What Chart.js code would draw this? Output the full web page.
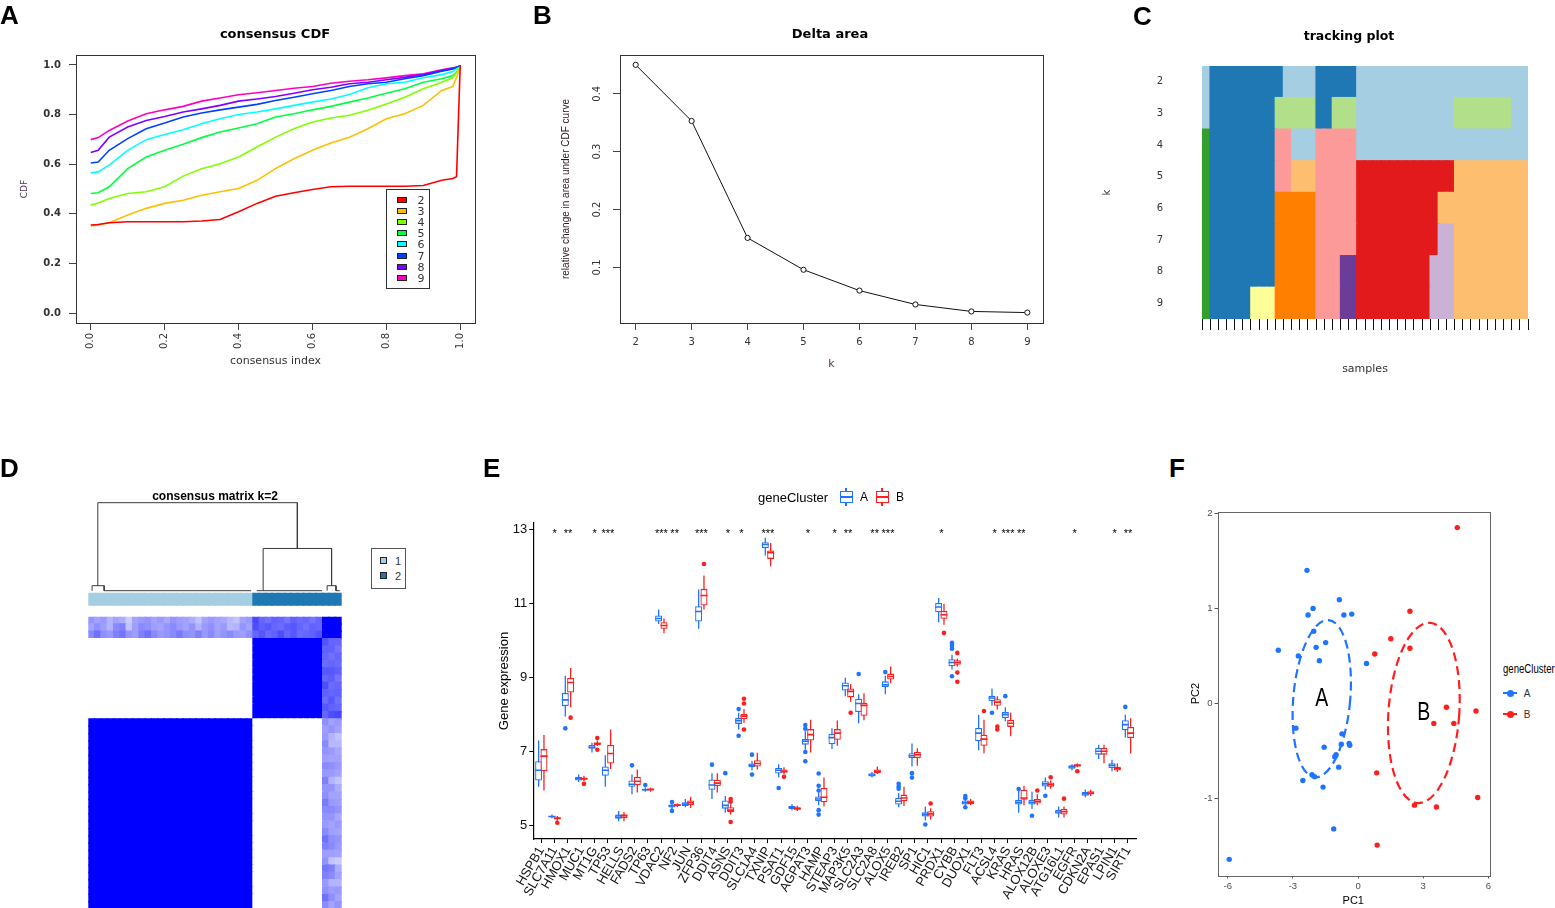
<!DOCTYPE html>
<html>
<head>
<meta charset="utf-8">
<title>Consensus clustering figure</title>
<script src="https://cdn.jsdelivr.net/npm/chart.js@4.4.1/dist/chart.umd.min.js"></script>
<style>
  html, body { margin: 0; padding: 0; background: #fff; }
  body { position: relative; width: 1555px; height: 908px; overflow: hidden; }
  canvas { position: absolute; }
  .t { position: absolute; white-space: nowrap; line-height: 1; color: #000; }
  .box { position: absolute; box-sizing: border-box; }
</style>
</head>
<body>
<script>
// ---------------- A: consensus CDF ----------------
const cdfIndex = [0, 0.02, 0.05, 0.1, 0.15, 0.2, 0.25, 0.3, 0.35, 0.4, 0.45, 0.5, 0.55, 0.6, 0.65, 0.7, 0.75, 0.8, 0.85, 0.9, 0.95, 0.98, 0.99, 1.0];
const cdfK2 = [0.355, 0.357, 0.364, 0.368, 0.368, 0.368, 0.368, 0.371, 0.377, 0.408, 0.442, 0.471, 0.485, 0.498, 0.509, 0.511, 0.511, 0.511, 0.511, 0.514, 0.535, 0.542, 0.549, 1.0];
const cdfK3 = [0.351, 0.355, 0.364, 0.395, 0.422, 0.442, 0.455, 0.475, 0.489, 0.502, 0.535, 0.582, 0.622, 0.656, 0.685, 0.709, 0.743, 0.783, 0.803, 0.837, 0.897, 0.913, 0.95, 0.991];
const cdfK4 = [0.435, 0.444, 0.462, 0.482, 0.489, 0.509, 0.552, 0.582, 0.602, 0.629, 0.669, 0.709, 0.743, 0.77, 0.786, 0.797, 0.817, 0.843, 0.87, 0.904, 0.93, 0.948, 0.971, 0.991];
const cdfK5 = [0.482, 0.485, 0.509, 0.582, 0.629, 0.656, 0.68, 0.707, 0.73, 0.746, 0.763, 0.79, 0.803, 0.819, 0.833, 0.85, 0.867, 0.886, 0.904, 0.93, 0.944, 0.957, 0.971, 0.991];
const cdfK6 = [0.565, 0.569, 0.596, 0.656, 0.699, 0.72, 0.739, 0.763, 0.783, 0.8, 0.81, 0.823, 0.837, 0.85, 0.863, 0.881, 0.908, 0.924, 0.93, 0.948, 0.961, 0.973, 0.984, 0.993];
const cdfK7 = [0.605, 0.609, 0.656, 0.703, 0.743, 0.766, 0.79, 0.806, 0.819, 0.83, 0.841, 0.857, 0.87, 0.884, 0.897, 0.913, 0.924, 0.93, 0.944, 0.957, 0.975, 0.984, 0.991, 0.996];
const cdfK8 = [0.647, 0.656, 0.709, 0.75, 0.776, 0.792, 0.81, 0.823, 0.837, 0.854, 0.863, 0.873, 0.886, 0.9, 0.91, 0.924, 0.93, 0.94, 0.95, 0.961, 0.977, 0.986, 0.991, 0.996];
const cdfK9 = [0.699, 0.707, 0.736, 0.774, 0.803, 0.819, 0.833, 0.854, 0.867, 0.88, 0.888, 0.897, 0.906, 0.913, 0.926, 0.934, 0.94, 0.948, 0.957, 0.964, 0.98, 0.988, 0.991, 0.997];
const cdfLabels = ['2', '3', '4', '5', '6', '7', '8', '9'];
const cdfTicks = [0, 0.2, 0.4, 0.6, 0.8, 1.0];

// ---------------- B: delta area ----------------
const deltaK = [2, 3, 4, 5, 6, 7, 8, 9];
const deltaArea = [0.45, 0.353, 0.151, 0.096, 0.06, 0.036, 0.024, 0.022];
const deltaTicks = [0.1, 0.2, 0.3, 0.4];

// ---------------- C: tracking plot (palette index per sample) ----------------
const trackK2 = [0,1,1,1,1,1,1,1,1,1,0,0,0,0,1,1,1,1,1,0,0,0,0,0,0,0,0,0,0,0,0,0,0,0,0,0,0,0,0,0];
const trackK3 = [0,1,1,1,1,1,1,1,1,2,2,2,2,2,1,1,2,2,2,0,0,0,0,0,0,0,0,0,0,0,0,2,2,2,2,2,2,2,0,0];
const trackK4 = [3,1,1,1,1,1,1,1,1,4,4,0,0,0,4,4,4,4,4,0,0,0,0,0,0,0,0,0,0,0,0,0,0,0,0,0,0,0,0,0];
const trackK5 = [3,1,1,1,1,1,1,1,1,4,4,6,6,6,4,4,4,4,4,5,5,5,5,5,5,5,5,5,5,5,5,6,6,6,6,6,6,6,6,6];
const trackK6 = [3,1,1,1,1,1,1,1,1,7,7,7,7,7,4,4,4,4,4,5,5,5,5,5,5,5,5,5,5,6,6,6,6,6,6,6,6,6,6,6];
const trackK7 = [3,1,1,1,1,1,1,1,1,7,7,7,7,7,4,4,4,4,4,5,5,5,5,5,5,5,5,5,5,8,8,6,6,6,6,6,6,6,6,6];
const trackK8 = [3,1,1,1,1,1,1,1,1,7,7,7,7,7,4,4,4,9,9,5,5,5,5,5,5,5,5,5,8,8,8,6,6,6,6,6,6,6,6,6];
const trackK9 = [3,1,1,1,1,1,10,10,10,7,7,7,7,7,4,4,4,9,9,5,5,5,5,5,5,5,5,5,8,8,8,6,6,6,6,6,6,6,6,6];
const trackKs = ['9', '8', '7', '6', '5', '4', '3', '2'];

// ---------------- D: consensus matrix k=2 ----------------
const consCluster = [1,1,1,1,1,1,1,1,1,1,1,1,1,1,1,1,1,1,1,1,1,1,1,1,1,1,2,2,2,2,2,2,2,2,2,2,2,2,2,2];
const ambiguousIds = [37, 38, 39];
const ambRow37 = [0.46,0.56,0.44,0.4,0.5,0.54,0.42,0.38,0.5,0.56,0.46,0.4,0.42,0.46,0.52,0.44,0.42,0.5,0.4,0.46,0.38,0.42,0.46,0.4,0.38,0.44, 0.6,0.66,0.58,0.62,0.7,0.6,0.66,0.58,0.6,0.62,0.68];
const ambRow38 = [0.36,0.44,0.38,0.3,0.46,0.5,0.24,0.38,0.46,0.44,0.38,0.36,0.42,0.46,0.4,0.36,0.42,0.3,0.4,0.44,0.36,0.4,0.28,0.3,0.42,0.36, 0.7,0.62,0.66,0.6,0.58,0.64,0.66,0.6,0.56,0.62,0.6];
const ambRow39 = [0.42,0.36,0.4,0.3,0.36,0.32,0.2,0.36,0.4,0.42,0.36,0.4,0.34,0.42,0.38,0.36,0.32,0.24,0.36,0.4,0.36,0.34,0.28,0.24,0.36,0.4, 0.72,0.6,0.56,0.62,0.6,0.54,0.62,0.58,0.6,0.55,0.6];
// [left x, right x, merge height, left child height, right child height]
const dendroMerges = [
  [1.0, 32.5, 1.0, 0.057, 0.48],
  [27.1, 37.9, 0.48, 0, 0.057],
  [0.1, 2.0, 0.057, 0, 0],
  [37.2, 38.6, 0.057, 0, 0],
  [2.0, 25.2, 0, 0, 0],
  [26.1, 36.4, 0, 0, 0],
  [38.6, 39.2, 0, 0, 0]
];

// ---------------- E: gene expression boxplots ----------------
const genes = ['HSPB1','SLC7A11','HMOX1','MUC1','MT1G','TP53','HELLS','FADS2','TP63','VDAC2','NF2','JUN','ZFP36','DDIT4','ASNS','DDIT3','SLC1A4','TXNIP','PSAT1','GDF15','AGPAT3','HAMP','STEAP3','MAP3K5','SLC2A3','SLC2A8','ALOX5','IREB2','SP1','HIC1','PRDX1','CYBB','DUOX1','FLT3','ACSL4','KRAS','HRAS','ALOX12B','ALOXE3','ATG16L1','EGFR','CDKN2A','EPAS1','LPIN1','SIRT1'];
const sigLabels = ['','*','**','','*','***','','','','***','**','','***','','*','*','','***','','','*','','*','**','','**','***','','','','*','','','','*','***','**','','','','*','','','*','**'];
// [lower whisker, Q1, median, Q3, upper whisker]
const statsA = [
  [6.05,6.22,6.5,6.74,7.3],[5.2,5.23,5.25,5.27,5.3],[7.95,8.23,8.4,8.59,9.05],[6.18,6.22,6.27,6.32,6.38],[6.98,7.08,7.12,7.18,7.24],
  [6.05,6.35,6.5,6.6,6.9],[5.12,5.19,5.23,5.3,5.4],[5.85,6.05,6.12,6.22,6.38],[5.92,5.95,5.97,6.0,6.03],[10.45,10.52,10.6,10.68,10.84],
  [5.45,5.49,5.53,5.57,5.62],[5.5,5.53,5.58,5.63,5.72],[10.32,10.52,10.79,10.93,11.38],[5.72,5.97,6.1,6.25,6.42],[5.35,5.46,5.55,5.68,5.8],
  [7.6,7.75,7.84,7.91,8.05],[6.5,6.58,6.63,6.68,6.75],[12.3,12.5,12.6,12.66,12.78],[6.3,6.41,6.5,6.56,6.66],[5.42,5.45,5.49,5.53,5.58],
  [7.05,7.19,7.28,7.34,7.55],[5.55,5.66,5.72,5.79,5.9],[7.07,7.2,7.38,7.48,7.63],[8.5,8.65,8.78,8.87,9.0],[7.77,8.07,8.3,8.43,8.55],
  [6.3,6.33,6.37,6.42,6.45],[8.55,8.75,8.81,8.9,9.05],[5.5,5.57,5.66,5.75,5.88],[6.6,6.83,6.89,6.96,7.22],[5.14,5.25,5.3,5.36,5.52],
  [10.5,10.77,10.91,11.02,11.15],[9.22,9.31,9.41,9.5,9.62],[5.55,5.57,5.62,5.68,5.7],[7.04,7.28,7.5,7.64,8.0],[8.24,8.36,8.45,8.51,8.7],
  [7.82,7.91,8.0,8.07,8.2],[5.35,5.57,5.63,5.7,5.97],[5.45,5.57,5.63,5.7,5.92],[5.98,6.06,6.13,6.2,6.3],[5.22,5.32,5.37,5.43,5.52],
  [6.5,6.54,6.59,6.63,6.66],[5.77,5.81,5.86,5.91,5.98],[6.8,6.92,7.01,7.1,7.19],[6.47,6.56,6.63,6.69,6.78],[7.38,7.58,7.73,7.85,8.0]
];
const statsB = [
  [5.95,6.47,6.88,7.07,7.45],[5.13,5.17,5.2,5.23,5.26],[8.2,8.6,8.87,8.99,9.26],[6.2,6.24,6.27,6.3,6.35],[7.15,7.18,7.22,7.25,7.3],
  [6.53,6.68,6.95,7.18,7.6],[5.12,5.21,5.27,5.31,5.37],[5.9,6.1,6.2,6.32,6.52],[5.92,5.95,5.98,6.0,6.03],[10.2,10.32,10.41,10.5,10.6],
  [5.5,5.53,5.56,5.58,5.6],[5.48,5.55,5.62,5.68,5.78],[10.84,10.95,11.22,11.4,11.76],[5.9,6.07,6.15,6.24,6.42],[5.3,5.36,5.42,5.5,5.58],
  [7.78,7.88,7.96,8.02,8.15],[6.52,6.6,6.68,6.77,6.97],[12.01,12.21,12.38,12.44,12.64],[6.38,6.43,6.47,6.52,6.58],[5.4,5.43,5.46,5.5,5.54],
  [6.98,7.3,7.46,7.61,7.86],[5.52,5.63,5.77,6.02,6.3],[7.16,7.32,7.5,7.61,7.84],[8.35,8.47,8.63,8.71,8.83],[7.85,7.97,8.25,8.32,8.58],
  [6.4,6.42,6.47,6.52,6.6],[8.85,8.95,9.03,9.11,9.3],[5.53,5.66,5.75,5.84,6.05],[6.62,6.83,6.92,7.0,7.09],[5.17,5.25,5.32,5.39,5.47],
  [10.43,10.59,10.7,10.8,11.0],[9.3,9.35,9.41,9.47,9.52],[5.55,5.58,5.63,5.68,5.72],[6.96,7.16,7.34,7.46,7.86],[8.14,8.24,8.34,8.42,8.5],
  [7.42,7.67,7.77,7.86,8.05],[5.55,5.7,5.75,5.97,6.08],[5.55,5.6,5.66,5.72,5.85],[6.0,6.05,6.11,6.17,6.22],[5.22,5.3,5.38,5.46,5.52],
  [6.58,6.6,6.63,6.66,6.68],[5.8,5.84,5.88,5.93,5.97],[6.69,6.92,7.01,7.1,7.19],[6.45,6.49,6.54,6.59,6.68],[6.95,7.37,7.5,7.67,7.9]
];
const outliersA = [[],[],[7.63],[],[],[],[],[6.63],[6.1],[],[5.4,5.64],[],[],[6.65],[6.42],[8.15,7.43],[6.92,6.38],[],[6.02],[],
  [7.72,7.62,6.99,6.74],[6.41,6.08,5.95,5.42,5.3],[],[],[9.1],[],[9.15],[6.13,6.06,6.0],[6.42,6.3],[5.03],[],[9.94,9.86,9.78,9.04],
  [5.8,5.74,5.5],[],[8.05],[8.5],[5.99],[5.27],[5.81],[],[],[],[],[],[8.21]];
const outliersB = [[],[5.08],[7.92],[6.13],[7.37,7.05],[],[],[],[],[],[],[],[12.07],[],[5.72,5.65,5.1],[8.43,8.3,7.6],[],[],[6.32],[],
  [],[],[],[8.05],[],[],[],[],[],[5.6],[10.21],[9.67,9.14,8.89],[],[8.1],[7.68,7.6],[],[],[5.95],[6.31],[5.73],[6.47],[],[],[],[]];
const exprTicks = [5, 7, 9, 11, 13];

// ---------------- F: PCA ----------------
const pcaAx = [-5.93,-3.67,-2.75,-2.86,-2.54,-2.35,-2.30,-2.07,-2.04,-1.93,-2.0,-2.12,-1.78,-1.56,-1.61,-1.49,-1.12,-1.07,-1.01,-0.89,-0.86,-0.74,-0.77,-0.65,-0.41,-0.38,-0.29,0.39];
const pcaAy = [-1.64,0.56,0.5,-0.26,-0.81,1.40,0.93,1.0,0.76,0.59,-0.77,-0.75,0.45,-0.46,-0.88,0.64,-1.32,-0.56,-0.54,-0.67,1.09,-0.32,-0.43,0.93,-0.42,-0.44,0.94,0.42];
const pcaBx = [0.77,0.86,0.88,1.51,2.39,2.39,2.60,3.49,3.61,4.07,4.41,4.57,5.43,5.51];
const pcaBy = [0.52,-0.73,-1.49,0.68,0.97,0.58,-1.07,-0.21,-1.09,-0.04,-0.21,1.85,-0.08,-0.99];
const ellipseLabels = ['A', 'B'];
const ellipseCx = [-1.67, 3.03];
const ellipseCy = [0.05, -0.1];
const ellipseRx = [1.31, 1.63];
const ellipseRy = [0.83, 0.95];
const ellipseTilt = [5, 4];
const pcaXTicks = [-6, -3, 0, 3, 6];
const pcaYTicks = [-1, 0, 1, 2];

// ---------------- setup ----------------
const SANS = '"Liberation Sans", Arial, sans-serif';
const WIDE = '"DejaVu Sans", sans-serif';
const BLUE = '#1F74FF', RED = '#FF1E1E';
const cdfColors = ['#FF0000', '#FFBF00', '#80FF00', '#00FF40', '#00FFFF', '#0040FF', '#8000FF', '#FF00BF'];
const trackPalette = ['#A6CEE3','#1F78B4','#B2DF8A','#33A02C','#FB9A99','#E31A1C','#FDBF6F','#FF7F00','#CAB2D6','#6A3D9A','#FFFF99'];
const clusterColors = ['#A6CEE3', '#1F78B4'];
const sampleIds = consCluster.map((_, i) => 'S' + (i + 1));

Chart.defaults.font.family = SANS;
Chart.defaults.color = '#000';
Chart.defaults.animation = false;
Chart.defaults.responsive = false;
Chart.defaults.plugins.legend.display = false;
Chart.defaults.plugins.tooltip.enabled = false;

function makeChart(left, top, w, h, config) {
  const cv = document.createElement('canvas');
  cv.width = w; cv.height = h;
  cv.style.left = left + 'px'; cv.style.top = top + 'px';
  document.body.appendChild(cv);
  return new Chart(cv, config);
}
function addText(str, x, y, font, opts = {}) {
  const d = document.createElement('div');
  d.className = 't';
  d.textContent = str;
  d.style.left = x + 'px'; d.style.top = y + 'px'; d.style.font = font;
  if (opts.color) d.style.color = opts.color;
  const left = opts.anchor === 'left';
  if (left) d.style.transformOrigin = '0 50%';
  d.style.transform = `translate(${left ? '0' : '-50%'},-50%)` + (opts.rot ? ` rotate(${opts.rot}deg)` : '') + (opts.sx ? ` scaleX(${opts.sx})` : '');
  document.body.appendChild(d);
}
function addBox(x, y, w, h, css) {
  const d = document.createElement('div');
  d.className = 'box';
  Object.assign(d.style, { left: x + 'px', top: y + 'px', width: w + 'px', height: h + 'px' }, css);
  document.body.appendChild(d);
}
function framePlugin(color) {
  return { id: 'frame', afterDraw(chart) {
    const { ctx, chartArea: a } = chart;
    ctx.save(); ctx.strokeStyle = color; ctx.lineWidth = 1;
    ctx.strokeRect(Math.round(a.left) + 0.5, Math.round(a.top) + 0.5, Math.round(a.right - a.left), Math.round(a.bottom - a.top));
    ctx.restore();
  } };
}
const fixedTicks = values => s => { s.ticks = values.map(v => ({ value: v })); };
const tickGrid = (len, color) => ({ drawOnChartArea: false, tickLength: len, color });

// ---------------- A ----------------
const cdfCurves = [cdfK2, cdfK3, cdfK4, cdfK5, cdfK6, cdfK7, cdfK8, cdfK9];
makeChart(0, 0, 490, 380, {
  type: 'line',
  data: { datasets: cdfCurves.map((ys, i) => ({
    label: cdfLabels[i], data: ys.map((y, j) => ({ x: cdfIndex[j], y })),
    borderColor: cdfColors[i], borderWidth: 1.6, pointRadius: 0, tension: 0
  })) },
  options: {
    layout: { padding: { top: 55, right: 15, left: 0, bottom: 0 } },
    scales: {
      x: { type: 'linear', min: -0.04, max: 1.04, afterFit: s => { s.height = 57; },
        afterBuildTicks: fixedTicks(cdfTicks), grid: tickGrid(7, '#444'), border: { display: false },
        ticks: { autoSkip: false, minRotation: 90, maxRotation: 90, padding: 3, color: '#333', font: { family: WIDE, size: 10 }, callback: v => v.toFixed(1) },
        title: { display: true, text: 'consensus index', color: '#333', font: { family: WIDE, size: 11 }, padding: { top: 0, bottom: 12 } } },
      y: { type: 'linear', min: -0.04, max: 1.04, afterFit: s => { s.width = 76; },
        afterBuildTicks: fixedTicks(cdfTicks), grid: tickGrid(7, '#444'), border: { display: false },
        ticks: { padding: 8, color: '#333', font: { family: WIDE, size: 10, weight: 'bold' }, callback: v => v.toFixed(1) },
        title: { display: true, text: 'CDF', color: '#4a3358', font: { family: WIDE, size: 9 }, padding: { top: 19, bottom: 0 } } }
    }
  },
  plugins: [framePlugin('#333')]
});
addText('consensus CDF', 275, 33, `bold 13px ${WIDE}`);
addBox(386, 189, 44, 100, { border: '1.5px solid #333' });
cdfLabels.forEach((lab, i) => {
  const y = 200 + i * 11.1;
  addBox(397, y - 3, 10, 6, { background: cdfColors[i], border: '1px solid #222' });
  addText(lab, 421, y, `11px ${WIDE}`, { color: '#333' });
});

// ---------------- B ----------------
const rotatedYLabels = { id: 'rotY', afterDraw(chart) {
  const { ctx } = chart, ys = chart.scales.y;
  ctx.save();
  ctx.font = `10px ${WIDE}`; ctx.fillStyle = '#333'; ctx.textAlign = 'center'; ctx.textBaseline = 'middle';
  deltaTicks.forEach(v => {
    ctx.save(); ctx.translate(57, ys.getPixelForValue(v)); ctx.rotate(-Math.PI / 2);
    ctx.fillText(v.toFixed(1), 0, 0); ctx.restore();
  });
  ctx.restore();
} };
makeChart(540, 0, 520, 380, {
  type: 'line',
  data: { datasets: [{ data: deltaK.map((k, i) => ({ x: k, y: deltaArea[i] })), borderColor: '#111', borderWidth: 1,
    pointRadius: 2.6, pointBackgroundColor: '#fff', pointBorderColor: '#111', pointBorderWidth: 1 }] },
  options: {
    layout: { padding: { top: 55, right: 17, left: 0, bottom: 0 } },
    scales: {
      x: { type: 'linear', min: 1.72, max: 9.28, afterFit: s => { s.height = 57; },
        afterBuildTicks: fixedTicks(deltaK), grid: tickGrid(7, '#444'), border: { display: false },
        ticks: { autoSkip: false, maxRotation: 0, padding: 6, color: '#333', font: { family: WIDE, size: 10 } },
        title: { display: true, text: 'k', color: '#5a3a2a', font: { family: WIDE, size: 11 }, padding: { top: 0, bottom: 9 } } },
      y: { type: 'linear', min: 0.004, max: 0.467, afterFit: s => { s.width = 80; },
        afterBuildTicks: fixedTicks(deltaTicks), grid: tickGrid(7, '#444'), border: { display: false },
        ticks: { display: false },
        title: { display: true, text: 'relative change in area under CDF curve', color: '#2a1a1a', font: { family: SANS, size: 10 }, padding: { top: 20, bottom: 0 } } }
    }
  },
  plugins: [framePlugin('#333'), rotatedYLabels]
});
addText('Delta area', 830, 33, `bold 13px ${WIDE}`);

// ---------------- C ----------------
const trackBottomUp = [trackK9, trackK8, trackK7, trackK6, trackK5, trackK4, trackK3, trackK2];
makeChart(1080, 0, 475, 390, {
  type: 'bar',
  data: { labels: sampleIds, datasets: trackBottomUp.map(row => ({
    data: row.map(() => 1), backgroundColor: row.map(c => trackPalette[c]),
    borderWidth: 0, barPercentage: 1, categoryPercentage: 1, inflateAmount: 0.7
  })) },
  options: {
    layout: { padding: { top: 66, right: 27, left: 0, bottom: 0 } },
    scales: {
      x: { stacked: true, afterFit: s => { s.height = 71; },
        grid: { offset: true, drawOnChartArea: false, tickLength: 11, color: '#111' }, border: { display: false },
        ticks: { display: false },
        title: { display: true, text: 'samples', color: '#333', font: { family: WIDE, size: 11 }, padding: { top: 0, bottom: 14 } } },
      y: { stacked: true, min: 0, max: 8, afterFit: s => { s.width = 122; },
        afterBuildTicks: fixedTicks([0.5, 1.5, 2.5, 3.5, 4.5, 5.5, 6.5, 7.5]), grid: { display: false }, border: { display: false },
        ticks: { padding: 31, color: '#333', font: { family: WIDE, size: 10 }, callback: v => trackKs[Math.floor(v)] },
        title: { display: true, text: 'k', color: '#333', font: { family: WIDE, size: 10 }, padding: { top: 21, bottom: 0 } } }
    }
  }
});
addText('tracking plot', 1349, 35, `bold 12.5px ${WIDE}`);

// ---------------- D ----------------
const ambRows = [ambRow37, ambRow38, ambRow39];
function consensusValue(i, j) {
  const ai = ambiguousIds.indexOf(i), aj = ambiguousIds.indexOf(j);
  if (ai >= 0 && aj >= 0) return 1;
  if (ai >= 0) return ambRows[ai][j];
  if (aj >= 0) return ambRows[aj][i];
  return consCluster[i] === consCluster[j] ? 1 : 0;
}
const consColor = v => { const c = Math.round(255 * (1 - v)); return `rgb(${c},${c},255)`; };

makeChart(80, 495, 270, 100, {
  type: 'scatter',
  data: { datasets: dendroMerges.map(m => ({
    data: [{ x: m[0], y: m[3] }, { x: m[0], y: m[2] }, { x: m[1], y: m[2] }, { x: m[1], y: m[4] }],
    showLine: true, borderColor: '#3a3a3a', borderWidth: 1, pointRadius: 0, clip: false
  })) },
  options: {
    layout: { padding: { top: 7.7, bottom: 4.3, left: 8.3, right: 8.3 } },
    scales: { x: { type: 'linear', min: -0.5, max: 39.5, display: false }, y: { min: 0, max: 1, display: false } }
  }
});
makeChart(80, 588, 270, 22, {
  type: 'bar',
  data: { labels: sampleIds, datasets: [{ data: consCluster.map(() => 1), backgroundColor: consCluster.map(c => clusterColors[c - 1]),
    borderWidth: 0, barPercentage: 1, categoryPercentage: 1, inflateAmount: 0.7 }] },
  options: {
    layout: { padding: { top: 4.7, bottom: 4.3, left: 8.3, right: 8.3 } },
    scales: { x: { display: false }, y: { min: 0, max: 1, display: false } }
  }
});
makeChart(80, 612, 270, 298, {
  type: 'bar',
  data: { labels: sampleIds, datasets: sampleIds.map((_, r) => ({
    data: sampleIds.map(() => 1), backgroundColor: sampleIds.map((__, c) => consColor(consensusValue(r, c))),
    borderWidth: 0, barPercentage: 1, categoryPercentage: 1, inflateAmount: 0.7
  })) },
  options: {
    layout: { padding: { top: 4.7, bottom: 1, left: 8.3, right: 8.3 } },
    scales: { x: { stacked: true, display: false }, y: { stacked: true, min: 0, max: 40, display: false } }
  }
});
addText('consensus matrix k=2', 215, 496, `bold 12px ${SANS}`);
addBox(371, 548, 35, 41, { border: '1px solid #555' });
addBox(380, 557, 7, 7, { background: clusterColors[0], border: '1px solid #222' });
addText('1', 398, 561, `11px ${SANS}`, { color: '#333' });
addBox(380, 572, 7, 7, { background: clusterColors[1], border: '1px solid #222' });
addText('2', 398, 576, `11px ${SANS}`, { color: '#333' });

// ---------------- E ----------------
const eDatasets = [];
[[statsB, outliersB, RED, 'xB', 0.2], [statsA, outliersA, BLUE, 'x', -0.2]].forEach(([st, out, col, ax, dx]) => {
  eDatasets.push({ type: 'bar', xAxisID: ax, order: 3, grouped: false, data: st.map((s, i) => ({ x: i + dx, y: [s[0], s[4]] })),
    backgroundColor: col, borderWidth: 0, maxBarThickness: 1.3, inflateAmount: 0 });
  eDatasets.push({ type: 'bar', xAxisID: ax, order: 2, grouped: false, data: st.map((s, i) => ({ x: i + dx, y: [s[1], s[3]] })),
    backgroundColor: '#fff', borderColor: col, borderWidth: 1.3, borderSkipped: false, maxBarThickness: 7 });
  eDatasets.push({ type: 'scatter', xAxisID: ax, order: 1, data: st.map((s, i) => ({ x: i + dx, y: s[2] })),
    pointStyle: 'line', pointRadius: 3.5, pointBorderColor: col, pointBorderWidth: 1.6 });
  eDatasets.push({ type: 'scatter', xAxisID: ax, order: 0, data: out.flatMap((o, i) => o.map(v => ({ x: i + dx, y: v }))),
    pointRadius: 2.3, pointBackgroundColor: col, pointBorderWidth: 0 });
});
const starPlugin = { id: 'stars', afterDatasetsDraw(chart) {
  const { ctx } = chart, xs = chart.scales.x, ys = chart.scales.y;
  ctx.save(); ctx.font = `11px ${SANS}`; ctx.fillStyle = '#000'; ctx.textAlign = 'center'; ctx.textBaseline = 'alphabetic';
  sigLabels.forEach((s, i) => { if (s) ctx.fillText(s, xs.getPixelForValue(i), ys.getPixelForValue(13) + 7); });
  ctx.restore();
} };
makeChart(480, 480, 670, 428, {
  type: 'bar',
  data: { datasets: eDatasets },
  options: {
    layout: { padding: { top: 43, right: 14, left: 0, bottom: 0 } },
    scales: {
      x: { type: 'linear', min: -0.6, max: 44.6, offset: false, afterFit: s => { s.height = 69; },
        afterBuildTicks: fixedTicks(genes.map((g, i) => i)),
        grid: { drawOnChartArea: false, tickLength: 4, color: '#000', offset: false }, border: { display: true, color: '#000', width: 1.2 },
        ticks: { autoSkip: false, minRotation: 60, maxRotation: 60, padding: 1, color: '#111', font: { size: 13 }, callback: v => genes[v] } },
      xB: { type: 'linear', axis: 'x', min: -0.6, max: 44.6, offset: false, display: false },
      y: { type: 'linear', min: 4.64, max: 13.18, afterFit: s => { s.width = 53.3; },
        afterBuildTicks: fixedTicks(exprTicks),
        grid: tickGrid(4, '#000'), border: { display: true, color: '#000', width: 1.2 },
        ticks: { padding: 2, color: '#111', font: { size: 13 } },
        title: { display: true, text: 'Gene expression', color: '#000', font: { size: 13 }, padding: { top: 17, bottom: 0 } } }
    }
  },
  plugins: [starPlugin]
});
function boxKey(cx, cy, col) {
  addBox(cx - 0.65, cy - 9, 1.3, 18, { background: col });
  addBox(cx - 6.5, cy - 6, 13, 12, { background: '#fff', border: `1.3px solid ${col}` });
  addBox(cx - 6.5, cy - 0.8, 13, 1.6, { background: col });
}
addText('geneCluster', 758, 497, `13px ${SANS}`, { anchor: 'left' });
boxKey(846, 497, BLUE);
addText('A', 864, 497, `12px ${SANS}`);
boxKey(882, 497, RED);
addText('B', 900, 497, `12px ${SANS}`);

// ---------------- F ----------------
const ellipsePlugin = { id: 'ellipses', beforeDatasetsDraw(chart) {
  const { ctx } = chart, xs = chart.scales.x, ys = chart.scales.y;
  ellipseLabels.forEach((lab, i) => {
    const cx = xs.getPixelForValue(ellipseCx[i]), cy = ys.getPixelForValue(ellipseCy[i]);
    const rx = xs.getPixelForValue(ellipseCx[i] + ellipseRx[i]) - cx;
    const ry = cy - ys.getPixelForValue(ellipseCy[i] + ellipseRy[i]);
    ctx.save();
    ctx.strokeStyle = [BLUE, RED][i]; ctx.lineWidth = 2.2; ctx.setLineDash([9, 5]);
    ctx.beginPath(); ctx.ellipse(cx, cy, rx, ry, ellipseTilt[i] * Math.PI / 180, 0, Math.PI * 2); ctx.stroke();
    ctx.setLineDash([]); ctx.fillStyle = '#000'; ctx.font = `25px ${SANS}`; ctx.textAlign = 'center'; ctx.textBaseline = 'middle';
    ctx.translate(cx, cy); ctx.scale(0.78, 1);
    ctx.fillText(lab, 0, 0);
    ctx.restore();
  });
} };
makeChart(1180, 490, 320, 418, {
  type: 'scatter',
  data: { datasets: [
    { data: pcaAx.map((x, i) => ({ x, y: pcaAy[i] })), pointRadius: 2.7, pointBackgroundColor: BLUE, pointBorderWidth: 0 },
    { data: pcaBx.map((x, i) => ({ x, y: pcaBy[i] })), pointRadius: 2.7, pointBackgroundColor: RED, pointBorderWidth: 0 }
  ] },
  options: {
    layout: { padding: { top: 21.7, right: 11, left: 0, bottom: 0 } },
    scales: {
      x: { type: 'linear', min: -6.47, max: 6.03, afterFit: s => { s.height = 32.5; },
        afterBuildTicks: fixedTicks(pcaXTicks), grid: tickGrid(3, '#555'), border: { display: false },
        ticks: { padding: 2, color: '#4d4d4d', font: { size: 9.5 } },
        title: { display: true, text: 'PC1', color: '#000', font: { size: 11 }, padding: 0 } },
      y: { type: 'linear', min: -1.81, max: 2.017, afterFit: s => { s.width = 37.5; },
        afterBuildTicks: fixedTicks(pcaYTicks), grid: tickGrid(3, '#555'), border: { display: false },
        ticks: { padding: 2, color: '#4d4d4d', font: { size: 9.5 } },
        title: { display: true, text: 'PC2', color: '#000', font: { size: 11 }, padding: { top: 9, bottom: 0 } } }
    }
  },
  plugins: [framePlugin('#666'), ellipsePlugin]
});
addText('geneCluster', 1503, 669, `12px ${SANS}`, { anchor: 'left', sx: 0.8 });
[[BLUE, 'A', 693], [RED, 'B', 714]].forEach(([col, lab, y]) => {
  addBox(1503, y - 1, 14, 2, { background: col });
  addBox(1506.5, y - 3.5, 7, 7, { background: col, borderRadius: '50%' });
  addText(lab, 1527, y, `10px ${SANS}`, { color: '#333' });
});

// ---------------- panel tags ----------------
const tagFont = `bold 26px ${SANS}`;
addText('A', 0, 14.5, tagFont, { anchor: 'left' });
addText('B', 533, 15, tagFont, { anchor: 'left' });
addText('C', 1133, 15.5, tagFont, { anchor: 'left' });
addText('D', 0, 468, tagFont, { anchor: 'left' });
addText('E', 483, 468, tagFont, { anchor: 'left' });
addText('F', 1169, 468, tagFont, { anchor: 'left' });
</script>
</body>
</html>
